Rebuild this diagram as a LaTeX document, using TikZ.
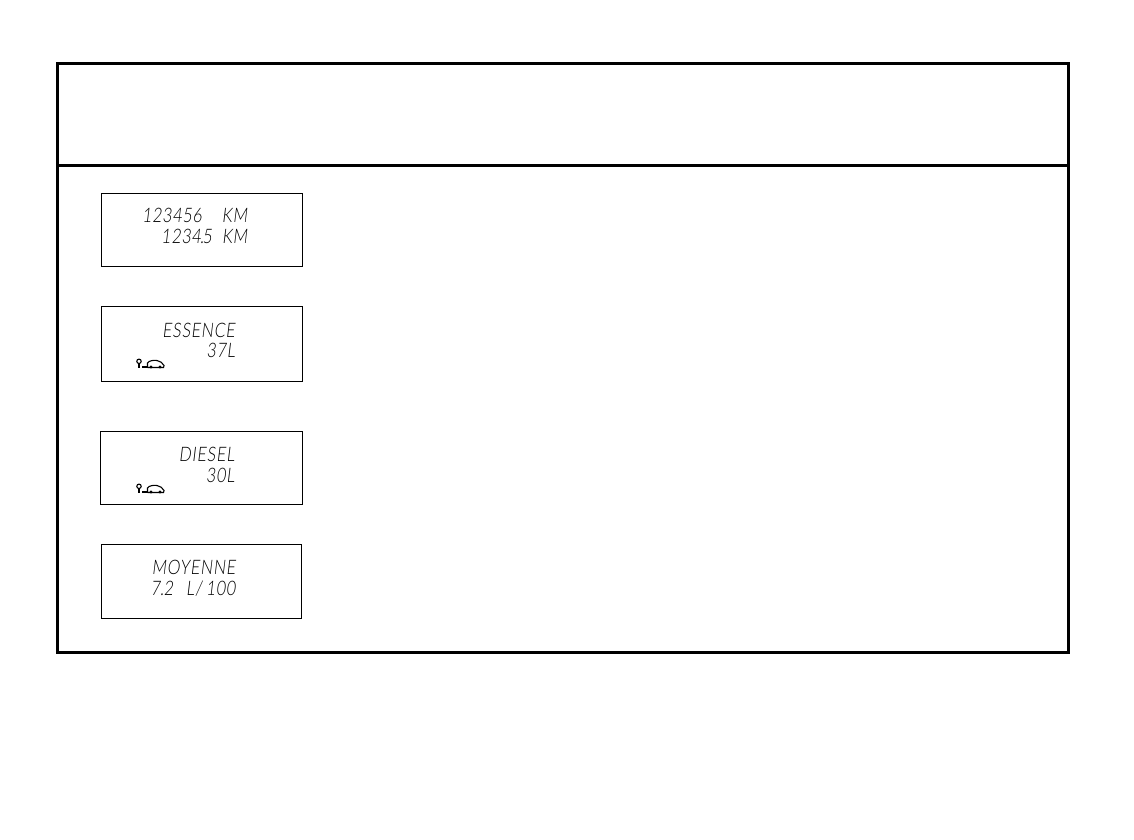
\documentclass[tikz,border=0pt]{standalone}
\usepackage{fontspec}
\newfontfamily\lcdfont[FakeSlant=0.12,FakeStretch=0.8,LetterSpace=4]{Lato Light}
\newfontfamily\lcdnum[FakeSlant=0.12,FakeStretch=0.8,LetterSpace=4]{Lato Light}
\tikzset{
  frameline/.style={draw=black,line width=2.6pt},
  lcdbox/.style={draw=black,line width=0.9pt,fill=white},
  lcdtext/.style={inner sep=0pt,outer sep=0pt,text=black,font=\lcdfont\fontsize{20}{20}\selectfont},
  iconline/.style={draw=black,line width=1.1pt}
}
\begin{document}
\begin{tikzpicture}[x=1pt,y=-1pt]
\useasboundingbox (0,0) rectangle (1134,839);
\draw[frameline] (57.5,63.5) rectangle (1068.5,652.5);
\draw[frameline] (57.5,165.3) -- (1068.5,165.3);
% display 1
\draw[lcdbox] (101.5,193.5) rectangle (302.5,266.5);
\node[lcdtext,anchor=base east] (a1) at (247.5,222) {\lcdnum 123456\hspace{20pt}\lcdfont KM};
\node[lcdtext,anchor=base east] (a2) at (247.5,243) {\lcdnum 1234\kern-1pt.\kern-1pt5\hspace{10pt}\lcdfont KM};
% display 2
\draw[lcdbox] (101.5,306.5) rectangle (302.5,381.5);
\node[lcdtext,anchor=base east] (b1) at (235,337) {ESSENCE};
\node[lcdtext,anchor=base east] (b2) at (235,357) {\lcdnum 37\lcdfont L};
% display 3
\draw[lcdbox] (100.5,431.5) rectangle (302.5,504.5);
\node[lcdtext,anchor=base east] (c1) at (234.5,461) {DIESEL};
\node[lcdtext,anchor=base east] (c2) at (234.5,482) {\lcdnum 30\lcdfont L};
% display 4
\draw[lcdbox] (101.5,544.5) rectangle (301.5,618.5);
\node[lcdtext,anchor=base east] (d1) at (235.5,574) {MOYENNE};
\node[lcdtext,anchor=base east] (d2) at (235.5,595) {\lcdnum 7\kern0pt.\kern0pt2\hspace{13pt}\lcdfont L/\hspace{4pt}\lcdnum 100};
% key and car icons
\foreach \oy in {0,125}{
\begin{scope}[yshift=-\oy pt]
  \draw[iconline] (139,361.3) circle (2.2);
  \draw[iconline] (139,363.5) -- (139,368);
  \fill[black] (142,365.5) rectangle (147.5,368.2);
  \draw[iconline] (147.5,367.5) -- (147.5,363) .. controls (149,360.5) and (154,360) .. (157,360.5) .. controls (160,361) and (163,363) .. (164,365.5) -- (163.5,367.5) -- (147.5,367.5);
  \fill[black] (151,367) circle (1.6);
  \fill[black] (160,367) circle (1.6);
\end{scope}
}
\end{tikzpicture}
\end{document}
